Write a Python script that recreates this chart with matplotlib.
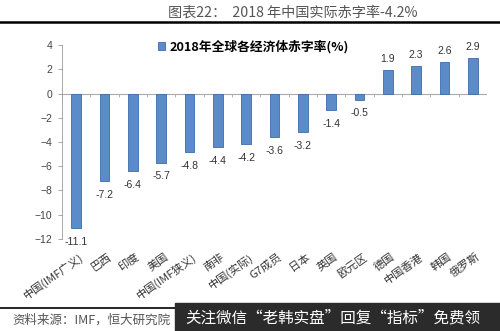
import numpy as np
import matplotlib
matplotlib.use("Agg")
import matplotlib.pyplot as plt

plt.rcParams['font.family'] = ['Liberation Sans', 'Noto Sans CJK SC', 'DejaVu Sans']

categories = ["中国(IMF广义)", "巴西", "印度", "美国", "中国(IMF狭义)", "南非", "中国(实际)",
              "G7成员", "日本", "英国", "欧元区", "德国", "中国香港", "韩国", "俄罗斯"]
values = [-11.1, -7.2, -6.4, -5.7, -4.8, -4.4, -4.2, -3.6, -3.2, -1.4, -0.5, 1.9, 2.3, 2.6, 2.9]
series_name = "2018年全球各经济体赤字率(%)"
yticks = [-12, -10, -8, -6, -4, -2, 0, 2, 4]

cjk = ['Noto Sans CJK SC', 'DejaVu Sans']

fig = plt.figure(figsize=(5.0, 3.31), dpi=100)
ax = fig.add_axes([0.124, 0.278, 0.85, 0.586])

x = np.arange(len(categories))
bars = ax.bar(x, values, width=0.33, color="#5B8BC9", edgecolor="#3C6BA8",
              linewidth=0.6, label=series_name, zorder=3)

for xi, v in zip(x, values):
    off = 8 if v > 0 else -10
    ax.annotate(f"{v:.1f}", (xi, v), xytext=(0, off), textcoords="offset points",
                ha="center", va="center", fontsize=7.5, color="#333333",
                annotation_clip=False)

ax.set_xlim(-0.5, len(categories) - 0.5)
ax.set_ylim(-12, 4)
ax.set_yticks(yticks)
ax.tick_params(axis="y", labelsize=7.5, colors="#444444", length=3, width=0.6,
               color="#999999", pad=4)
ax.set_xticks(x + 0.1)
ax.set_xticklabels(categories, rotation=35, ha="right", rotation_mode="anchor",
                   fontsize=8, family=cjk, color="#333333")
ax.tick_params(axis="x", length=0, pad=9)

for s in ["top", "right", "bottom"]:
    ax.spines[s].set_visible(False)
ax.spines["left"].set_color("#999999")
ax.spines["left"].set_linewidth(0.6)

# zero line with category boundary ticks
ax.axhline(0, color="#aaaaaa", linewidth=0.8, zorder=2)
bounds = np.arange(len(categories) + 1) - 0.5
ax.vlines(bounds, -0.25, 0, color="#aaaaaa", linewidth=0.6, zorder=2)

leg = ax.legend(loc="upper center", bbox_to_anchor=(0.45, 1.085), frameon=False,
                handlelength=0.6, handleheight=0.6, handletextpad=0.3,
                prop={"family": cjk, "weight": "bold", "size": 9.2})

# header / footer
fig.text(0.585, 0.962, "图表22：  2018 年中国实际赤字率-4.2%", ha="center", va="center",
         fontsize=10.2, color="#555555", family=cjk)
fig.add_artist(plt.Line2D([0.0, 1.0], [0.934, 0.934], color="black", linewidth=1.8))
fig.add_artist(plt.Line2D([0.0, 1.0], [0.069, 0.069], color="black", linewidth=1.2))
fig.text(0.024, 0.033, "资料来源：IMF，恒大研究院", ha="left", va="center", fontsize=9,
         color="#555555", family=cjk)
fig.patches.append(plt.Rectangle((0.35, 0.0), 0.65, 0.085, transform=fig.transFigure,
                                 color="#2b2b2b", zorder=5))
fig.text(0.37, 0.04, "关注微信“老韩实盘”回复“指标”免费领", ha="left", va="center",
         fontsize=11.2, color="white", zorder=6, family=cjk)

fig.savefig("out.png", dpi=100)
